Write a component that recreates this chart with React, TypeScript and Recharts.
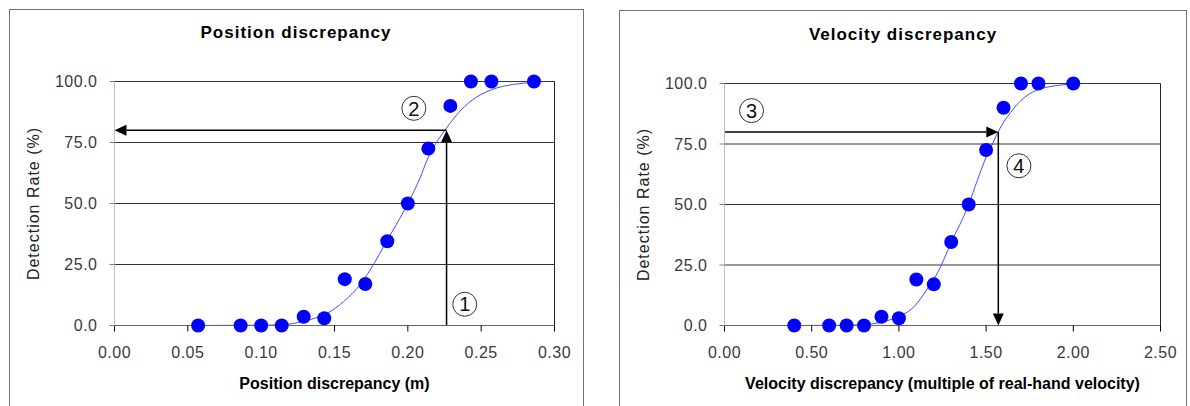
import React from 'react';
import {
  ComposedChart,
  Line,
  Scatter,
  XAxis,
  YAxis,
  CartesianGrid,
  ReferenceLine,
  ReferenceDot,
  Label,
} from 'recharts';

// ---------- data ----------
const detectionRates = [0, 0, 0, 0, 3.6, 3, 19, 17, 34.5, 50, 72.5, 90, 100, 100, 100];
const positionValues = [0.057, 0.086, 0.1, 0.114, 0.129, 0.143, 0.157, 0.171, 0.186, 0.2, 0.214, 0.229, 0.243, 0.257, 0.286];
const velocityValues = [0.4, 0.6, 0.7, 0.8, 0.9, 1.0, 1.1, 1.2, 1.3, 1.4, 1.5, 1.6, 1.7, 1.8, 2.0];

const positionFitX = [0, 0.05, 0.1, 0.118, 0.125, 0.134, 0.145, 0.156, 0.168, 0.177, 0.184, 0.2, 0.208, 0.214, 0.219, 0.226, 0.234, 0.243, 0.257, 0.272, 0.286];
const positionFitY = [0, 0, 0.1, 0.5, 1.2, 2.5, 5, 9.7, 17.2, 25.4, 32.9, 50, 60, 69, 74.5, 80.6, 86.8, 92, 96.6, 98.8, 99.6];
const velocityFitX = [0, 0.4, 0.7, 0.82, 0.89, 0.95, 1.01, 1.09, 1.16, 1.22, 1.3, 1.4, 1.45, 1.5, 1.53, 1.57, 1.64, 1.7, 1.77, 1.89, 2.0];
const velocityFitY = [0, 0, 0.1, 0.5, 1.2, 2.4, 4, 8, 14.8, 21.6, 34.3, 50, 60, 69.5, 74, 80.2, 88, 93, 96.6, 99, 99.7];

const positionTicks = [0, 0.05, 0.1, 0.15, 0.2, 0.25, 0.3];
const velocityTicks = [0, 0.5, 1, 1.5, 2, 2.5];
const rateTicks = [0, 25, 50, 75, 100];

const thresholdRate = 80;
const positionThreshold = 0.2264;
const velocityThreshold = 1.57;

const positionMarkers = [
  { label: '1', x: 0.2388, y: 8.7 },
  { label: '2', x: 0.2041, y: 89 },
];
const velocityMarkers = [
  { label: '3', x: 0.155, y: 88.8 },
  { label: '4', x: 1.688, y: 66 },
];

const positionTitle = 'Position discrepancy';
const velocityTitle = 'Velocity discrepancy';
const positionXLabel = 'Position discrepancy (m)';
const velocityXLabel = 'Velocity discrepancy (multiple of real-hand velocity)';
const yLabelText = 'Detection Rate (%)';

// ---------- helpers ----------
const FONT = '"Liberation Sans", Arial, Helvetica, sans-serif';

const zip = (xs: number[], ys: number[]) => xs.map((x, i) => ({ x, y: ys[i] }));

const arrowShape = (props: any) => {
  const { x1, y1, x2, y2 } = props;
  const dx = x2 - x1;
  const dy = y2 - y1;
  const len = Math.hypot(dx, dy) || 1;
  const ux = dx / len;
  const uy = dy / len;
  const L = 12;
  const W = 5.5;
  const bx = x2 - ux * L;
  const by = y2 - uy * L;
  const pts = `${x2},${y2} ${bx - uy * W},${by + ux * W} ${bx + uy * W},${by - ux * W}`;
  return (
    <g>
      <line x1={x1} y1={y1} x2={bx} y2={by} stroke="#000" strokeWidth={1.5} />
      <polygon points={pts} fill="#000" />
    </g>
  );
};

const circledShape = (label: string) => (props: any) => (
  <g>
    <circle cx={props.cx} cy={props.cy} r={12} fill="none" stroke="#333" strokeWidth={1} />
    <text
      x={props.cx}
      y={props.cy}
      dy="0.36em"
      textAnchor="middle"
      fontSize={20}
      fontFamily={FONT}
      fill="#111"
    >
      {label}
    </text>
  </g>
);

const dotShape = (p: any) => <circle cx={p.cx} cy={p.cy} r={7} fill="#0000ff" />;

const xLabelContent = (text: string, fb: { x: number; y: number }) => (props: any) => {
  const vb = props.viewBox;
  const x = vb && vb.width != null ? vb.x + vb.width / 2 : fb.x;
  const y = vb && vb.y != null ? vb.y + 63.5 : fb.y;
  return (
    <text x={x} y={y} textAnchor="middle" fontSize={16} fontWeight="bold" fontFamily={FONT} fill="#000">
      {text}
    </text>
  );
};

const yLabelContent = (text: string, fb: { x: number; y: number }) => (props: any) => {
  const vb = props.viewBox;
  const x = vb && vb.width != null ? vb.x + vb.width - 76 : fb.x;
  const y = vb && vb.height != null ? vb.y + vb.height / 2 : fb.y;
  return (
    <text
      x={x}
      y={y}
      transform={`rotate(-90, ${x}, ${y})`}
      textAnchor="middle"
      fontSize={16}
      letterSpacing={1}
      fontFamily={FONT}
      fill="#222"
    >
      {text}
    </text>
  );
};

const tickStyle = { fontSize: 16, fontFamily: FONT, fill: '#3a3a3a', letterSpacing: 0.5 };

type PanelProps = {
  width: number;
  marginLeft: number;
  yAxisWidth: number;
  marginTop: number;
  points: { x: number; y: number }[];
  fit: { x: number; y: number }[];
  xTicks: number[];
  xMax: number;
  xLabel: string;
  arrows: { x: number; y: number }[][];
  markers: { label: string; x: number; y: number }[];
};

const Panel = (p: PanelProps) => {
  const height = 406;
  const marginRight = 29.5;
  const plotLeft = p.marginLeft + p.yAxisWidth;
  return (
    <ComposedChart
      width={p.width}
      height={height}
      margin={{ top: p.marginTop, right: marginRight, bottom: 20.5, left: p.marginLeft }}
    >
      <CartesianGrid horizontal vertical={false} stroke="#333" />
      <XAxis
        type="number"
        dataKey="x"
        domain={[0, p.xMax]}
        ticks={p.xTicks}
        interval={0}
        height={60}
        tickSize={6}
        tickMargin={15}
        tick={tickStyle}
        tickLine={{ stroke: '#000' }}
        axisLine={{ stroke: '#666' }}
        tickFormatter={(v: number) => v.toFixed(2)}
      >
        <Label content={xLabelContent(p.xLabel, { x: (plotLeft + p.width - marginRight) / 2, y: 389 })} />
      </XAxis>
      <YAxis
        type="number"
        dataKey="y"
        domain={[0, 100]}
        ticks={rateTicks}
        interval={0}
        width={p.yAxisWidth}
        tickSize={5}
        tickMargin={12}
        tick={tickStyle}
        tickLine={{ stroke: '#808080' }}
        axisLine={{ stroke: '#c0c0c0' }}
        tickFormatter={(v: number) => v.toFixed(1)}
      >
        <Label content={yLabelContent(yLabelText, { x: plotLeft - 76, y: (p.marginTop + 325.5) / 2 })} />
      </YAxis>
      <ReferenceLine x={p.xMax} stroke="#222" ifOverflow="extendDomain" />
      <Line
        data={p.fit}
        dataKey="y"
        type="monotone"
        stroke="#4a4aff"
        strokeWidth={1}
        dot={false}
        activeDot={false}
        isAnimationActive={false}
      />
      <Scatter data={p.points} dataKey="y" shape={dotShape} isAnimationActive={false} />
      {p.arrows.map((seg, i) => (
        <ReferenceLine key={`a${i}`} segment={seg} shape={arrowShape} stroke="#000" />
      ))}
      {p.markers.map((m) => (
        <ReferenceDot key={m.label} x={m.x} y={m.y} r={12} shape={circledShape(m.label)} />
      ))}
    </ComposedChart>
  );
};

export default function App() {
  const posPoints = zip(positionValues, detectionRates);
  const velPoints = zip(velocityValues, detectionRates);
  const posFit = zip(positionFitX, positionFitY);
  const velFit = zip(velocityFitX, velocityFitY);

  const posArrows = [
    [
      { x: positionThreshold, y: 0 },
      { x: positionThreshold, y: thresholdRate },
    ],
    [
      { x: positionThreshold, y: thresholdRate },
      { x: 0, y: thresholdRate },
    ],
  ];
  const velArrows = [
    [
      { x: 0, y: thresholdRate },
      { x: velocityThreshold, y: thresholdRate },
    ],
    [
      { x: velocityThreshold, y: thresholdRate },
      { x: velocityThreshold, y: 0 },
    ],
  ];

  return (
    <div
      style={{
        position: 'absolute',
        left: 0,
        top: 0,
        width: 1190,
        height: 406,
        overflow: 'hidden',
        background: '#fff',
      }}
    >
      <svg width={1190} height={406} style={{ position: 'absolute', left: 0, top: 0 }}>
        <rect x={9.5} y={9.5} width={574} height={420} fill="#fff" stroke="#707070" strokeWidth={1} />
        <rect x={619.5} y={10.5} width={567} height={420} fill="#fff" stroke="#707070" strokeWidth={1} />
        <text x={296} y={37.5} textAnchor="middle" fontSize={17} fontWeight="bold" letterSpacing={1} fontFamily={FONT} fill="#000">
          {positionTitle}
        </text>
        <text x={903} y={39.5} textAnchor="middle" fontSize={17} fontWeight="bold" letterSpacing={1} fontFamily={FONT} fill="#000">
          {velocityTitle}
        </text>
      </svg>
      <div style={{ position: 'absolute', left: 0, top: 0 }}>
        <Panel
          width={584}
          marginLeft={0.5}
          yAxisWidth={114}
          marginTop={81.5}
          points={posPoints}
          fit={posFit}
          xTicks={positionTicks}
          xMax={0.3}
          xLabel={positionXLabel}
          arrows={posArrows}
          markers={positionMarkers}
        />
      </div>
      <div style={{ position: 'absolute', left: 600, top: 0 }}>
        <Panel
          width={590}
          marginLeft={0.5}
          yAxisWidth={124}
          marginTop={83.5}
          points={velPoints}
          fit={velFit}
          xTicks={velocityTicks}
          xMax={2.5}
          xLabel={velocityXLabel}
          arrows={velArrows}
          markers={velocityMarkers}
        />
      </div>
    </div>
  );
}
